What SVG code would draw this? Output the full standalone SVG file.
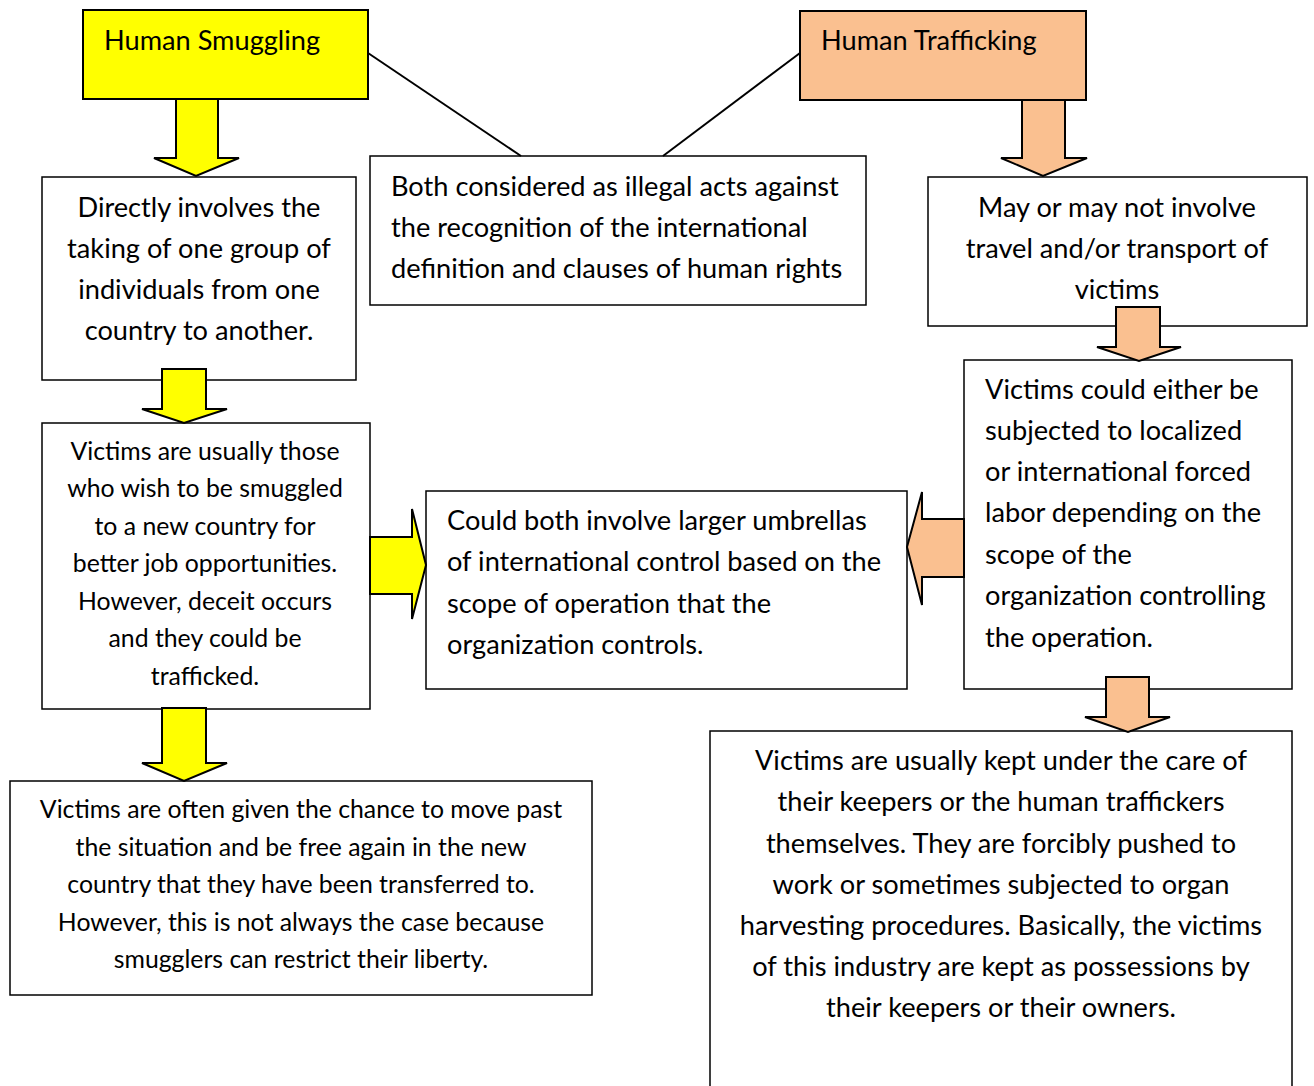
<svg xmlns="http://www.w3.org/2000/svg" width="1314" height="1086" viewBox="0 0 1314 1086">
<style>
.box{fill:#fff;stroke:#000;stroke-width:1.5}
.ys{fill:#ffff00;stroke:#000;stroke-width:2}
.pc{fill:#fac090;stroke:#000;stroke-width:2}
.ya{fill:#ffff00;stroke:#000;stroke-width:2;stroke-linejoin:miter}
.pa{fill:#fac090;stroke:#000;stroke-width:2;stroke-linejoin:miter}
text{font-family:Lato,"Liberation Sans",sans-serif;font-size:27.2px;fill:#000}
.c{text-anchor:middle}
.s{font-size:24.8px}
.ln{stroke:#000;stroke-width:2;fill:none}
</style>
<rect width="1314" height="1086" fill="#fff"/>
<g id="smuggling">
<rect class="ys" x="83" y="10" width="285" height="89"/>
<text x="104" y="50">Human Smuggling</text>
</g>
<g id="trafficking">
<rect class="pc" x="800" y="11" width="286" height="89"/>
<text x="821" y="50">Human Trafficking</text>
</g>
<g id="directly">
<rect class="box" x="42" y="177" width="314" height="203"/>
<text class="c" x="199" y="217">Directly involves the</text>
<text class="c" x="199" y="258">taking of one group of</text>
<text class="c" x="199" y="299">individuals from one</text>
<text class="c" x="199" y="340">country to another.</text>
</g>
<g id="both">
<rect class="box" x="370" y="156" width="496" height="149"/>
<text x="391" y="196">Both considered as illegal acts against</text>
<text x="391" y="237">the recognition of the international</text>
<text x="391" y="278">definition and clauses of human rights</text>
</g>
<g id="maynot">
<rect class="box" x="928" y="177" width="379" height="149"/>
<text class="c" x="1117" y="217">May or may not involve</text>
<text class="c" x="1117" y="258">travel and/or transport of</text>
<text class="c" x="1117" y="299">victims</text>
</g>
<g id="either">
<rect class="box" x="964" y="360" width="328" height="329"/>
<text x="985" y="399">Victims could either be</text>
<text x="985" y="440">subjected to localized</text>
<text x="985" y="481">or international forced</text>
<text x="985" y="522">labor depending on the</text>
<text x="985" y="564">scope of the</text>
<text x="985" y="605">organization controlling</text>
<text x="985" y="647">the operation.</text>
</g>
<g id="usually">
<rect class="box" x="42" y="423" width="328" height="286"/>
<text class="c s" x="205" y="460">Victims are usually those</text>
<text class="c s" x="205" y="497">who wish to be smuggled</text>
<text class="c s" x="205" y="535">to a new country for</text>
<text class="c s" x="205" y="572">better job opportunities.</text>
<text class="c s" x="205" y="610">However, deceit occurs</text>
<text class="c s" x="205" y="647">and they could be</text>
<text class="c s" x="205" y="685">trafficked.</text>
</g>
<g id="could">
<rect class="box" x="426" y="491" width="481" height="198"/>
<text x="447" y="530">Could both involve larger umbrellas</text>
<text x="447" y="571">of international control based on the</text>
<text x="447" y="613">scope of operation that the</text>
<text x="447" y="654">organization controls.</text>
</g>
<g id="often">
<rect class="box" x="10" y="781" width="582" height="214"/>
<text class="c s" x="301" y="818">Victims are often given the chance to move past</text>
<text class="c s" x="301" y="856">the situation and be free again in the new</text>
<text class="c s" x="301" y="893">country that they have been transferred to.</text>
<text class="c s" x="301" y="931">However, this is not always the case because</text>
<text class="c s" x="301" y="968">smugglers can restrict their liberty.</text>
</g>
<g id="kept">
<rect class="box" x="710" y="731" width="582" height="380"/>
<text class="c" x="1001" y="770">Victims are usually kept under the care of</text>
<text class="c" x="1001" y="811">their keepers or the human traffickers</text>
<text class="c" x="1001" y="853">themselves. They are forcibly pushed to</text>
<text class="c" x="1001" y="894">work or sometimes subjected to organ</text>
<text class="c" x="1001" y="935">harvesting procedures. Basically, the victims</text>
<text class="c" x="1001" y="976">of this industry are kept as possessions by</text>
<text class="c" x="1001" y="1017">their keepers or their owners.</text>
</g>
<g id="connectors">
<line class="ln" x1="368" y1="53" x2="521" y2="156"/>
<line class="ln" x1="800" y1="53" x2="663" y2="156"/>
<polygon class="ya" points="176,99 218,99 218,158 239,158 196,176 154,158 176,158"/>
<polygon class="pa" points="1022,100 1065,100 1065,158 1087,158 1043,176 1001,158 1022,158"/>
<polygon class="pa" points="1116,307 1160,307 1160,347 1181,347 1139,361 1097,347 1116,347"/>
<polygon class="pa" points="1106,677 1149,677 1149,717 1170,717 1128,732 1085,717 1106,717"/>
<polygon class="ya" points="162,369 206,369 206,409 227,409 184,423 142,409 162,409"/>
<polygon class="ya" points="162,708 206,708 206,763 227,763 184,781 142,763 162,763"/>
<polygon class="ya" points="370,537 412,537 412,509 426,565 412,619 412,594 370,594"/>
<polygon class="pa" points="964,519 922,519 922,492 907,547 922,605 922,577 964,577"/>
</g>
</svg>
